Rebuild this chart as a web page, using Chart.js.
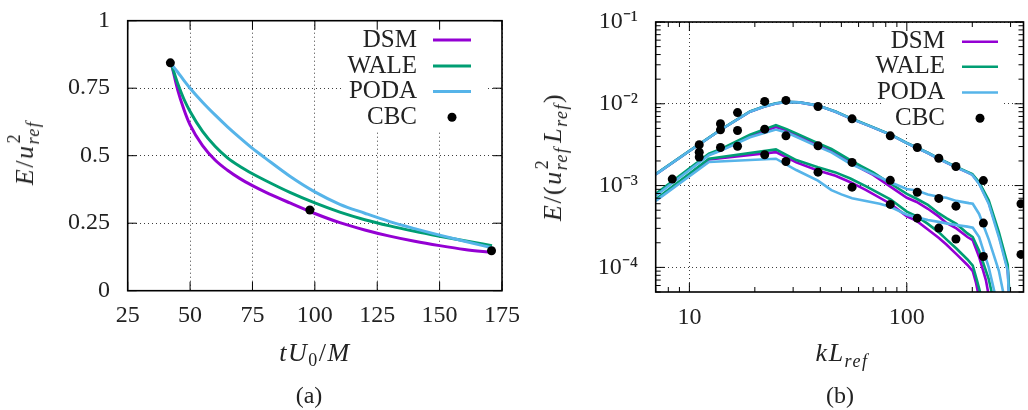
<!DOCTYPE html>
<html><head><meta charset="utf-8">
<script src="https://cdn.jsdelivr.net/npm/chart.js@4.4.1/dist/chart.umd.min.js"></script>
<style>
html,body{margin:0;padding:0;background:#fff;}
#wrap{position:relative;width:1028px;height:410px;overflow:hidden;background:#fff;font-family:'Liberation Serif',serif;color:#222;}
canvas{position:absolute;top:0;}
.lbl{position:absolute;font-size:24px;white-space:nowrap;line-height:1;}
.m{font-size:26px;letter-spacing:1.5px;}
.rot{transform:translate(-50%,-50%) rotate(-90deg);}
.xt{transform:translateX(-50%);}
.ss{display:inline-block;position:relative;font-size:18px;}
.ss .sp{position:absolute;left:1px;top:-0.72em;font-style:normal;}
.ss .sb{position:relative;top:0.32em;font-style:italic;}
.sbi{position:relative;top:0.32em;font-size:18px;font-style:italic;}
.sb0{position:relative;top:0.3em;font-size:18px;}
</style></head>
<body>
<div id="wrap">
  <canvas id="c1" width="540" height="410" style="left:0"></canvas>
  <canvas id="c2" width="508" height="410" style="left:520px"></canvas>
  <div class="lbl m rot" style="left:25px;top:153px"><i>E</i>/<i>u</i><span class="ss"><span class="sp">2</span><span class="sb">ref</span></span></div>
  <div class="lbl m xt" style="left:315px;top:340px"><i>tU</i><span class="sb0">0</span>/<i>M</i></div>
  <div class="lbl xt" style="left:309px;top:383px">(a)</div>
  <div class="lbl m rot" style="left:553px;top:157px"><i>E</i>/(<i>u</i><span class="ss"><span class="sp">2</span><span class="sb">ref</span></span>&#8202;<i>L</i><span class="sbi">ref</span>)</div>
  <div class="lbl m xt" style="left:842px;top:340px"><i>kL</i><span class="sbi">ref</span></div>
  <div class="lbl xt" style="left:840px;top:383px">(b)</div>
</div>
<script>
// ---------- data: panel (a) kinetic energy decay ----------
const tGrid = [42.8, 45, 47.5, 50, 55, 60, 65, 70, 75, 80, 90, 100, 110, 120, 130, 140, 150, 160, 171];
const dsmDecay  = [0.83, 0.745, 0.672, 0.614, 0.537, 0.484, 0.446, 0.415, 0.389, 0.366, 0.325, 0.286, 0.252, 0.225, 0.202, 0.183, 0.167, 0.153, 0.142];
const waleDecay = [0.83, 0.768, 0.71, 0.664, 0.59, 0.535, 0.492, 0.46, 0.433, 0.409, 0.364, 0.325, 0.291, 0.263, 0.24, 0.22, 0.202, 0.185, 0.167];
const podaDecay = [0.836, 0.81, 0.779, 0.75, 0.698, 0.651, 0.607, 0.566, 0.527, 0.492, 0.424, 0.366, 0.32, 0.287, 0.256, 0.23, 0.206, 0.183, 0.159];
const cbcT = [42.1, 98.0, 170.8];
const cbcDecay = [0.844, 0.299, 0.148];
const xTicksA = [25, 50, 75, 100, 125, 150, 175];
const yTicksA = [0, 0.25, 0.5, 0.75, 1];

// ---------- data: panel (b) energy spectra at three instants ([k, E]) ----------
const podaSpecA = [[7,1.37e-3],[10,2.65e-3],[14,4.85e-3],[19,8.0e-3],[22,9.2e-3],[25,1.01e-2],[28,1.05e-2],[32,1.04e-2],[39,9.5e-3],[47,8.0e-3],[56,6.5e-3],[68,5.3e-3],[84,4.2e-3],[100,3.3e-3],[111,2.9e-3],[125,2.5e-3],[140,2.13e-3],[169,1.67e-3],[190,1.45e-3],[200,1.35e-3],[215,1.05e-3],[238,6.0e-4],[265,2.35e-4],[291,9.1e-5],[297,3e-5]];
const waleSpecA = [[7,1.38e-3],[10,2.66e-3],[14,4.87e-3],[19,8.05e-3],[22,9.25e-3],[25,1.015e-2],[28,1.055e-2],[32,1.045e-2],[39,9.55e-3],[47,8.05e-3],[56,6.55e-3],[68,5.33e-3],[84,4.22e-3],[100,3.32e-3],[111,2.92e-3],[125,2.52e-3],[140,2.15e-3],[169,1.69e-3],[190,1.47e-3],[200,1.38e-3],[215,1.1e-3],[238,6.6e-4],[265,2.7e-4],[291,1.08e-4],[299,3e-5]];
const dsmSpecA  = [[7,1.37e-3],[10,2.65e-3],[14,4.85e-3],[19,8.0e-3],[22,9.2e-3],[25,1.01e-2],[28,1.05e-2],[32,1.04e-2],[39,9.5e-3],[47,8.0e-3],[56,6.5e-3],[68,5.3e-3],[84,4.2e-3],[100,3.3e-3],[111,2.9e-3],[125,2.5e-3],[140,2.13e-3],[169,1.67e-3],[190,1.45e-3],[200,1.36e-3],[215,1.07e-3],[238,6.2e-4],[265,2.5e-4],[291,9.6e-5],[298,3e-5]];

const waleSpecB = [[7,7.9e-4],[12.3,2.45e-3],[14,2.8e-3],[19,4.2e-3],[25,5.5e-3],[28,4.9e-3],[31,4.35e-3],[39,3.3e-3],[45,2.8e-3],[55,2.05e-3],[62,1.72e-3],[70,1.45e-3],[84,1.06e-3],[100,7.9e-4],[111,6.9e-4],[125,5.8e-4],[140,4.6e-4],[152,4.0e-4],[169,3.4e-4],[190,2.6e-4],[201,2.35e-4],[215,1.6e-4],[238,7.2e-5],[250,4e-5]];
const dsmSpecB  = [[7,7.7e-4],[12.3,2.4e-3],[14,2.72e-3],[19,4.0e-3],[25,5.2e-3],[28,4.7e-3],[31,4.15e-3],[39,3.15e-3],[45,2.7e-3],[55,1.95e-3],[62,1.6e-3],[70,1.35e-3],[84,9.7e-4],[100,7.1e-4],[111,6.3e-4],[125,5.2e-4],[140,4.2e-4],[152,3.5e-4],[169,3.0e-4],[190,2.35e-4],[201,2.15e-4],[215,1.34e-4],[231,7e-5],[240,4e-5]];
const podaSpecB = [[7,7.5e-4],[12.3,2.35e-3],[14,2.68e-3],[19,3.9e-3],[25,4.85e-3],[28,4.45e-3],[31,3.95e-3],[39,3.0e-3],[45,2.55e-3],[55,1.85e-3],[62,1.6e-3],[70,1.38e-3],[84,1.1e-3],[100,9.1e-4],[111,8.7e-4],[125,7.8e-4],[140,7.3e-4],[152,7.1e-4],[169,6.5e-4],[193,6.1e-4],[201,6.0e-4],[215,4.5e-4],[238,2.2e-4],[265,9.1e-5],[282,4e-5]];

const waleSpecC = [[7,6.8e-4],[12.3,2.13e-3],[25,2.77e-3],[31,2.05e-3],[39,1.68e-3],[47,1.45e-3],[55,1.22e-3],[65,9.8e-4],[84,6.8e-4],[100,4.8e-4],[111,4.2e-4],[125,3.4e-4],[140,2.7e-4],[152,2.2e-4],[169,1.7e-4],[190,1.25e-4],[201,1.05e-4],[210,7e-5],[222,4e-5]];
const dsmSpecC  = [[7,6.6e-4],[12.3,2.08e-3],[25,2.56e-3],[31,1.92e-3],[39,1.53e-3],[47,1.32e-3],[55,1.1e-3],[65,8.8e-4],[84,6.0e-4],[100,4.2e-4],[111,3.7e-4],[125,2.9e-4],[140,2.3e-4],[152,1.9e-4],[169,1.45e-4],[190,1.07e-4],[201,9e-5],[208,6.5e-5],[216,4e-5]];
const podaSpecC = [[7,6.5e-4],[12.3,1.94e-3],[25,2.13e-3],[31,1.55e-3],[39,1.15e-3],[45,8.8e-4],[50,7.8e-4],[56,7.0e-4],[75,6.0e-4],[84,5.5e-4],[100,4.4e-4],[111,4.1e-4],[125,3.8e-4],[140,3.6e-4],[152,3.45e-4],[169,3.3e-4],[190,3.15e-4],[201,3.05e-4],[215,2.35e-4],[238,1.0e-4],[258,4e-5]];

const cbcK = [8.34, 11.1, 11.1, 11.1, 13.9, 13.9, 13.9, 16.65, 16.65, 16.65, 22.2, 22.2, 22.2, 27.8, 27.8, 27.8, 39.05, 39.05, 39.05, 56, 56, 56, 83.9, 83.9, 83.9, 111.7, 111.7, 111.7, 140.3, 140.3, 140.3, 168.2, 168.2, 168.2, 224.9, 224.9, 224.9, 335, 335];
const cbcSpec = [1.2e-3, 3.16e-3, 2.56e-3, 2.23e-3, 5.7e-3, 4.8e-3, 2.92e-3, 7.8e-3, 4.72e-3, 3.03e-3, 1.07e-2, 4.9e-3, 2.38e-3, 1.1e-2, 4.06e-3, 1.97e-3, 9.27e-3, 3.07e-3, 1.46e-3, 6.55e-3, 1.92e-3, 9.57e-4, 4.06e-3, 1.16e-3, 5.89e-4, 2.92e-3, 8.3e-4, 4.0e-4, 2.16e-3, 6.97e-4, 3.02e-4, 1.71e-3, 5.6e-4, 2.22e-4, 1.15e-3, 3.48e-4, 1.36e-4, 6.0e-4, 1.44e-4];
const xTicksB = [10, 100];
const yTicksB = [1e-4, 1e-3, 1e-2, 1e-1];

// ---------- styling ----------
const COL = {DSM: '#9400d3', WALE: '#009e73', PODA: '#56b4e9', CBC: '#000000'};
const FONT = '"Liberation Serif", serif';

const SUP = {'-': '\u207b', '0': '\u2070', '1': '\u00b9', '2': '\u00b2', '3': '\u00b3', '4': '\u2074', '5': '\u2075', '6': '\u2076', '7': '\u2077', '8': '\u2078', '9': '\u2079'};
const powLabel = v => '10' + String(Math.round(Math.log10(v))).split('').map(c => SUP[c]).join('');

const gnuplotFrame = {
  id: 'gnuplotFrame',
  beforeDatasetsDraw(chart, args, o) {
    const {ctx, chartArea: a} = chart;
    const L = o.legend;
    ctx.save();
    ctx.fillStyle = '#fff';
    ctx.fillRect(L.boxLeft, a.top + 1, L.boxRight - L.boxLeft, L.boxBottom - a.top - 1);
    ctx.font = '25px ' + FONT;
    ctx.textAlign = 'right';
    ctx.textBaseline = 'middle';
    const items = chart.data.datasets.filter(d => d.legendRow !== undefined).sort((p, q) => p.legendRow - q.legendRow);
    items.forEach((ds, i) => {
      const y = L.rows[i];
      ctx.fillStyle = '#222';
      ctx.fillText(ds.label, L.textRight, y);
      if (ds.showLine === false) {
        ctx.beginPath();
        ctx.arc((L.x1 + L.x2) / 2, y, ds.pointRadius, 0, Math.PI * 2);
        ctx.fillStyle = ds.pointBackgroundColor;
        ctx.fill();
      } else {
        ctx.beginPath();
        ctx.moveTo(L.x1, y); ctx.lineTo(L.x2, y);
        ctx.strokeStyle = ds.borderColor; ctx.lineWidth = ds.borderWidth;
        ctx.stroke();
      }
    });
    ctx.restore();
  },
  afterDatasetsDraw(chart, args, o) {
    const {ctx, chartArea: a, scales} = chart;
    ctx.save();
    ctx.strokeStyle = '#000';
    ctx.lineWidth = 1;
    const tick = (s, v, len) => {
      const p = s.getPixelForValue(v);
      if (s.isHorizontal()) {
        if (p < a.left - 0.5 || p > a.right + 0.5) return;
        ctx.beginPath();
        ctx.moveTo(p, a.bottom); ctx.lineTo(p, a.bottom - len);
        ctx.moveTo(p, a.top); ctx.lineTo(p, a.top + len);
      } else {
        if (p < a.top - 0.5 || p > a.bottom + 0.5) return;
        ctx.beginPath();
        ctx.moveTo(a.left, p); ctx.lineTo(a.left + len, p);
        ctx.moveTo(a.right, p); ctx.lineTo(a.right - len, p);
      }
      ctx.stroke();
    };
    ['x', 'y'].forEach(id => {
      const s = scales[id];
      s.ticks.forEach(t => tick(s, t.value, o.majorLen));
      (o.minor[id] || []).forEach(v => tick(s, v, o.minorLen));
    });
    ctx.lineWidth = 1.6;
    ctx.strokeRect(a.left, a.top, a.right - a.left, a.bottom - a.top);
    ctx.restore();
  }
};

function build() {
  Chart.defaults.font.family = FONT;
  Chart.defaults.font.size = 24;
  Chart.defaults.color = '#222';
  const gridOpts = (tl) => ({color: 'rgba(40,40,40,0.9)', lineWidth: 1, drawTicks: true, tickLength: tl, tickWidth: 0});
  const borderOpts = {display: false, dash: [1, 3]};

  // ---------- panel (a) ----------
  const lineDs = (label, xs, ys, row) => ({
    label, data: xs.map((x, i) => ({x, y: ys[i]})), borderColor: COL[label], backgroundColor: COL[label],
    borderWidth: 3, pointRadius: 0, tension: 0.4, cubicInterpolationMode: 'monotone', fill: false, legendRow: row
  });
  new Chart(document.getElementById('c1'), {
    type: 'line',
    data: {datasets: [
      {label: 'CBC', data: cbcT.map((x, i) => ({x, y: cbcDecay[i]})), showLine: false, pointRadius: 4.5, pointBackgroundColor: '#000', pointBorderWidth: 0, borderColor: '#000', legendRow: 3},
      lineDs('PODA', tGrid, podaDecay, 2),
      lineDs('WALE', tGrid, waleDecay, 1),
      lineDs('DSM', tGrid, dsmDecay, 0)
    ]},
    options: {
      responsive: false, animation: false, devicePixelRatio: 1,
      layout: {padding: {left: 0, right: 38, top: 20.7, bottom: 0}},
      plugins: {
        legend: {display: false}, tooltip: {enabled: false},
        gnuplotFrame: {
          majorLen: 9, minorLen: 5, minor: {},
          legend: {boxLeft: 342, boxRight: 485, boxBottom: 130, textRight: 417, x1: 433, x2: 471, rows: [40, 66, 91.5, 117.3]}
        }
      },
      scales: {
        x: {type: 'linear', min: 25, max: 175,
          afterBuildTicks: s => { s.ticks = xTicksA.map(v => ({value: v})); },
          afterFit: s => { s.height = 410 - 290.7; },
          ticks: {padding: 0, maxRotation: 0, autoSkip: false, font: {size: 24, family: FONT}, callback: v => String(v)},
          grid: gridOpts(10.6), border: borderOpts},
        y: {type: 'linear', min: 0, max: 1,
          afterBuildTicks: s => { s.ticks = yTicksA.map(v => ({value: v})); },
          afterFit: s => { s.width = 127.7; },
          ticks: {padding: 0, font: {size: 24, family: FONT}, callback: v => String(v)},
          grid: gridOpts(17.7), border: borderOpts}
      }
    },
    plugins: [gnuplotFrame]
  });

  // ---------- panel (b) ----------
  const specDs = (label, pairs, row) => ({
    label, data: pairs.map(p => ({x: p[0], y: p[1]})), borderColor: COL[label], backgroundColor: COL[label],
    borderWidth: 2.6, pointRadius: 0, tension: 0, fill: false, legendRow: row
  });
  const minorX = [], minorY = [];
  [1, 10, 100].forEach(d => { for (let m = 2; m <= 9; m++) minorX.push(m * d); });
  [1e-5, 1e-4, 1e-3, 1e-2].forEach(d => { for (let m = 2; m <= 9; m++) minorY.push(m * d); });

  new Chart(document.getElementById('c2'), {
    type: 'line',
    data: {datasets: [
      {label: 'CBC', data: cbcK.map((x, i) => ({x, y: cbcSpec[i]})), showLine: false, pointRadius: 4.5, pointBackgroundColor: '#000', pointBorderWidth: 0, borderColor: '#000', legendRow: 3},
      specDs('PODA', podaSpecA, 2), specDs('PODA', podaSpecB), specDs('PODA', podaSpecC),
      specDs('WALE', waleSpecA, 1), specDs('WALE', waleSpecB), specDs('WALE', waleSpecC),
      specDs('DSM', dsmSpecA, 0), specDs('DSM', dsmSpecB), specDs('DSM', dsmSpecC)
    ]},
    options: {
      responsive: false, animation: false, devicePixelRatio: 1,
      layout: {padding: {left: 0, right: 0.5, top: 22, bottom: 0}},
      plugins: {
        legend: {display: false}, tooltip: {enabled: false},
        gnuplotFrame: {
          majorLen: 9, minorLen: 5, minor: {x: minorX, y: minorY},
          legend: {boxLeft: 363, boxRight: 483, boxBottom: 131, textRight: 425, x1: 442, x2: 478, rows: [41.7, 66.7, 92.5, 118.3]}
        }
      },
      scales: {
        x: {type: 'logarithmic', min: 7, max: 344,
          afterBuildTicks: s => { s.ticks = xTicksB.map(v => ({value: v})); },
          afterFit: s => { s.height = 410 - 292; },
          ticks: {padding: 0, maxRotation: 0, autoSkip: false, font: {size: 24, family: FONT}, callback: v => String(v)},
          grid: gridOpts(11.1), border: borderOpts},
        y: {type: 'logarithmic', min: 5e-5, max: 0.1,
          afterBuildTicks: s => { s.ticks = yTicksB.map(v => ({value: v})); },
          afterFit: s => { s.width = 135.7; },
          ticks: {padding: 0, font: {size: 24, family: FONT}, callback: v => powLabel(v)},
          grid: gridOpts(17.7), border: borderOpts}
      }
    },
    plugins: [gnuplotFrame]
  });
}

if (document.fonts && document.fonts.load) {
  Promise.all([document.fonts.load('24px "Liberation Serif"'), document.fonts.load('italic 24px "Liberation Serif"')])
    .then(build, build);
} else {
  build();
}
</script>
</body></html>
